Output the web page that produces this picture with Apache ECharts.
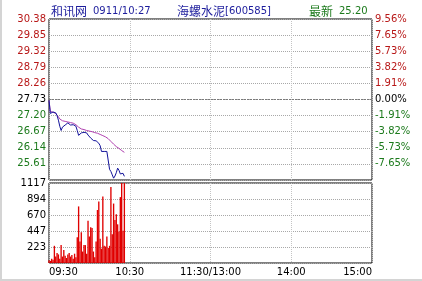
<!DOCTYPE html>
<html><head><meta charset="utf-8">
<script src="https://cdn.jsdelivr.net/npm/echarts@6/dist/echarts.min.js"></script>
<style>html,body{margin:0;padding:0;background:#fff}#c{width:422px;height:281px}</style>
</head><body><div id="c"></div>
<script>
const timeLabels = ['09:30','10:30','11:30/13:00','14:00','15:00'];
const priceLabels = ['25.08','25.61','26.14','26.67','27.20','27.73','28.26','28.79','29.32','29.85','30.38'];
const pctLabels = ['-9.56%','-7.65%','-5.73%','-3.82%','-1.91%','0.00%','1.91%','3.82%','5.73%','7.65%','9.56%'];
const volLabels = ['0','223','447','670','894','1117'];
const prevClose = 27.73, priceStep = 0.53, volMax = 1117;

const price = [27.70,27.27,27.29,27.32,27.31,27.29,27.20,27.05,26.85,26.71,
  26.82,26.87,26.89,26.91,26.96,26.92,26.89,26.91,26.90,26.91,
  26.85,26.71,26.55,26.55,26.63,26.68,26.65,26.71,26.63,26.56,
  26.52,26.46,26.40,26.38,26.40,26.37,26.33,26.29,26.21,26.02,
  26.02,26.02,26.02,26.02,25.99,25.43,25.36,25.25,25.14,25.21,
  25.32,25.47,25.40,25.28,25.25,25.30,25.20];
const avgPrice = [27.70,27.34,27.32,27.31,27.30,27.27,27.22,27.16,27.09,27.05,
  27.03,27.02,27.01,27.00,26.99,26.98,26.97,26.96,26.95,26.92,
  26.90,26.88,26.82,26.78,26.76,26.75,26.74,26.73,26.71,26.70,
  26.69,26.68,26.67,26.65,26.64,26.63,26.62,26.60,26.58,26.56,
  26.54,26.52,26.50,26.47,26.44,26.39,26.35,26.31,26.26,26.22,
  26.18,26.15,26.12,26.08,26.05,26.02,25.99];
const volume = [40,30,60,45,240,90,140,120,60,250,
  90,180,100,70,120,140,90,110,60,130,
  80,360,790,300,430,160,250,250,130,590,
  370,500,490,160,80,300,740,860,340,200,
  930,240,230,370,210,240,1060,400,830,600,
  680,540,440,920,1117,450,1117];

const red = '#b81818', green = '#1c7a1c';
const numFont = 'DejaVu Sans';
const chart = echarts.init(document.getElementById('c'));
const dotted = {color:'#a8a8a8', type:[1,1], width:1};
chart.setOption({
  animation:false,
  backgroundColor:'#fff',
  grid:[
    {left:49, top:19, width:323, height:161, show:true, borderColor:'#000', borderWidth:1, backgroundColor:'transparent'},
    {left:49, top:183, width:323, height:80, show:true, borderColor:'#000', borderWidth:1, backgroundColor:'transparent'}
  ],
  xAxis:[
    {gridIndex:0, type:'value', min:0, max:240, interval:60,
     axisLine:{show:false}, axisTick:{show:false}, axisLabel:{show:false},
     splitLine:{show:true, lineStyle:{color:'#c4c4c4', type:[1,1]}}},
    {gridIndex:1, type:'value', min:0, max:240, interval:60,
     axisLine:{show:false}, axisTick:{show:false},
     axisLabel:{show:true, margin:4, fontSize:10, fontFamily:numFont, color:'#000',
       alignMinLabel:'left', alignMaxLabel:'right',
       formatter:v=>timeLabels[Math.round(v/60)]},
     splitLine:{show:true, lineStyle:{color:'#c4c4c4', type:[1,1]}}}
  ],
  yAxis:[
    {gridIndex:0, type:'value', min:-5, max:5, interval:1, position:'left',
     axisLine:{show:false}, axisTick:{show:false},
     axisLabel:{margin:3, fontSize:10, fontFamily:numFont, showMinLabel:false,
       formatter:v=>priceLabels[Math.round(v)+5],
       color:(v)=>{const n=Number(v);return n>0.01?red:(n<-0.01?green:'#000');}},
     splitLine:{show:true, lineStyle:dotted}},
    {gridIndex:0, type:'value', min:-5, max:5, interval:1, position:'right',
     axisLine:{show:false}, axisTick:{show:false},
     axisLabel:{margin:3, fontSize:10, fontFamily:numFont, showMinLabel:false,
       formatter:v=>pctLabels[Math.round(v)+5],
       color:(v)=>{const n=Number(v);return n>0.01?red:(n<-0.01?green:'#000');}},
     splitLine:{show:false}},
    {gridIndex:1, type:'value', min:0, max:volMax, interval:volMax/5, position:'left',
     axisLine:{show:false}, axisTick:{show:false},
     axisLabel:{margin:3, fontSize:10, fontFamily:numFont, color:'#000', showMinLabel:false,
       formatter:v=>volLabels[Math.round(v/(volMax/5))]},
     splitLine:{show:true, lineStyle:dotted}}
  ],
  series:[
    {type:'line', xAxisIndex:0, yAxisIndex:0, symbol:'none', z:3,
     lineStyle:{color:'#b040b0', width:1},
     data:avgPrice.map((p,i)=>[i,(p-prevClose)/priceStep]),
     markLine:{silent:true, symbol:'none', label:{show:false},
       lineStyle:{color:'#7a7a7a', type:[2,1], width:1}, data:[{yAxis:0}]}},
    {type:'line', xAxisIndex:0, yAxisIndex:0, symbol:'none', z:4,
     lineStyle:{color:'#12129a', width:1},
     data:price.map((p,i)=>[i,(p-prevClose)/priceStep])},
    {type:'bar', xAxisIndex:1, yAxisIndex:2, barWidth:1.35,
     itemStyle:{color:'#e00000'},
     data:volume.map((v,i)=>[i,v])}
  ],
  graphic:[
    {type:'text', left:51, top:5, style:{text:'和讯网', font:'12px "Noto Sans CJK SC"', fill:'#1c1c9c'}},
    {type:'text', left:93, top:6, style:{text:'0911/10:27', font:'10px "DejaVu Sans"', fill:'#1c1c9c'}},
    {type:'text', left:177, top:5, style:{text:'海螺水泥', font:'12px "Noto Sans CJK SC"', fill:'#1c1c9c'}},
    {type:'text', left:225, top:6, style:{text:'[600585]', font:'10px "DejaVu Sans"', fill:'#1c1c9c'}},
    {type:'text', left:309, top:5, style:{text:'最新', font:'12px "Noto Sans CJK SC"', fill:green}},
    {type:'text', left:339, top:6, style:{text:'25.20', font:'10px "DejaVu Sans"', fill:green}},
    {type:'rect', shape:{x:0, y:0, width:2, height:281}, style:{fill:'#d4d4d4'}},
    {type:'rect', shape:{x:0, y:279, width:422, height:2}, style:{fill:'#d4d4d4'}}
  ]
});
</script></body></html>
